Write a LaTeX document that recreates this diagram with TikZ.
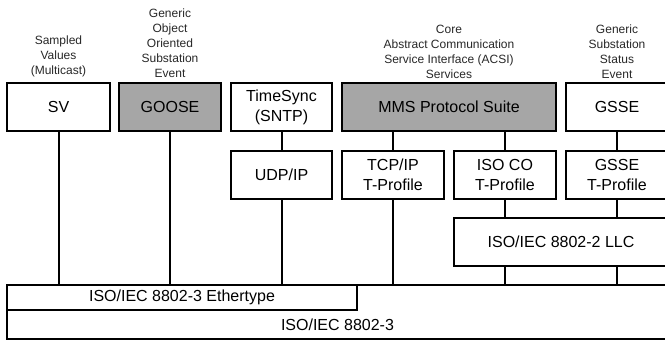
\documentclass[tikz,border=0pt]{standalone}
\usepackage{fontspec}
\setmainfont{Liberation Sans}
\definecolor{boxgray}{RGB}{166,166,166}
\definecolor{labelgray}{RGB}{40,40,40}
\begin{document}
\begin{tikzpicture}[x=1pt,y=-1pt,
  box/.style={draw=black, line width=1.7pt, fill=white, inner sep=0pt, align=center,
    minimum height=48pt, font=\fontsize{16}{20}\selectfont},
  shaded/.style={fill=boxgray},
  toplabel/.style={anchor=south, inner sep=0pt, align=center, text=labelgray,
    font=\fontsize{12}{15}\selectfont},
  conn/.style={draw=black, line width=2pt},
  plain/.style={inner sep=0pt, font=\fontsize{16}{20}\selectfont}
]
\useasboundingbox (0,0) rectangle (665,340);
\fill[white] (0,0) rectangle (665,340);
\clip (0,0) rectangle (665,340);

% top row
\node[box, minimum width=103pt] (sv) at (58.5,107) {SV};
\node[box, shaded, minimum width=102pt] (goose) at (170,107) {GOOSE};
\node[box, minimum width=101pt] (sync) at (281.5,107) {TimeSync\\(SNTP)};
\node[box, shaded, minimum width=214pt] (mms) at (449,107) {MMS Protocol Suite};
\node[box, minimum width=102pt] (gsse) at (617,107) {GSSE};

% labels (south anchor = last baseline-ish)
\node[toplabel] (lsv) at (58.5,77.5) {Sampled\\Values\\(Multicast)};
\node[toplabel] (lgoose) at (170,77.5) {Generic\\Object\\Oriented\\Substation\\Event};
\node[toplabel] (lmms) at (449,78.5) {Core\\Abstract Communication\\Service Interface (ACSI)\\Services};
\node[toplabel] (lgsse) at (617,78.5) {Generic\\Substation\\Status\\Event};

% second row
\node[box, minimum width=101pt] (udp) at (281.5,175) {UDP/IP};
\node[box, minimum width=102pt] (tcp) at (393,175) {TCP/IP\\T-Profile};
\node[box, minimum width=102pt] (isoco) at (505,175) {ISO CO\\T-Profile};
\node[box, minimum width=102pt] (gsset) at (617,175) {GSSE\\T-Profile};

% LLC
\node[box, minimum width=214pt] (llc) at (561,242) {ISO/IEC 8802-2 LLC};

% base
\node[box, minimum width=661pt, minimum height=54pt] (base) at (337.5,312) {};
\node[plain] (basetxt) at (337.5,324.5) {ISO/IEC 8802-3};
\node[box, minimum width=350pt, minimum height=25pt] (eth) at (182,297.5) {ISO/IEC 8802-3 Ethertype};

% connectors
\path[conn] (sv.south) -- (sv.south |- eth.north);
\path[conn] (goose.south) -- (goose.south |- eth.north);
\path[conn] (sync.south) -- (udp.north);
\path[conn] (udp.south) -- (udp.south |- eth.north);
\path[conn] (tcp.north |- mms.south) -- (tcp.north);
\path[conn] (isoco.north |- mms.south) -- (isoco.north);
\path[conn] (gsse.south) -- (gsset.north);
\path[conn] (tcp.south) -- (tcp.south |- base.north);
\path[conn] (isoco.south) -- (isoco.south |- llc.north);
\path[conn] (gsset.south) -- (gsset.south |- llc.north);
\path[conn] (isoco.south |- llc.south) -- (isoco.south |- base.north);
\path[conn] (gsset.south |- llc.south) -- (gsset.south |- base.north);
\end{tikzpicture}
\end{document}
